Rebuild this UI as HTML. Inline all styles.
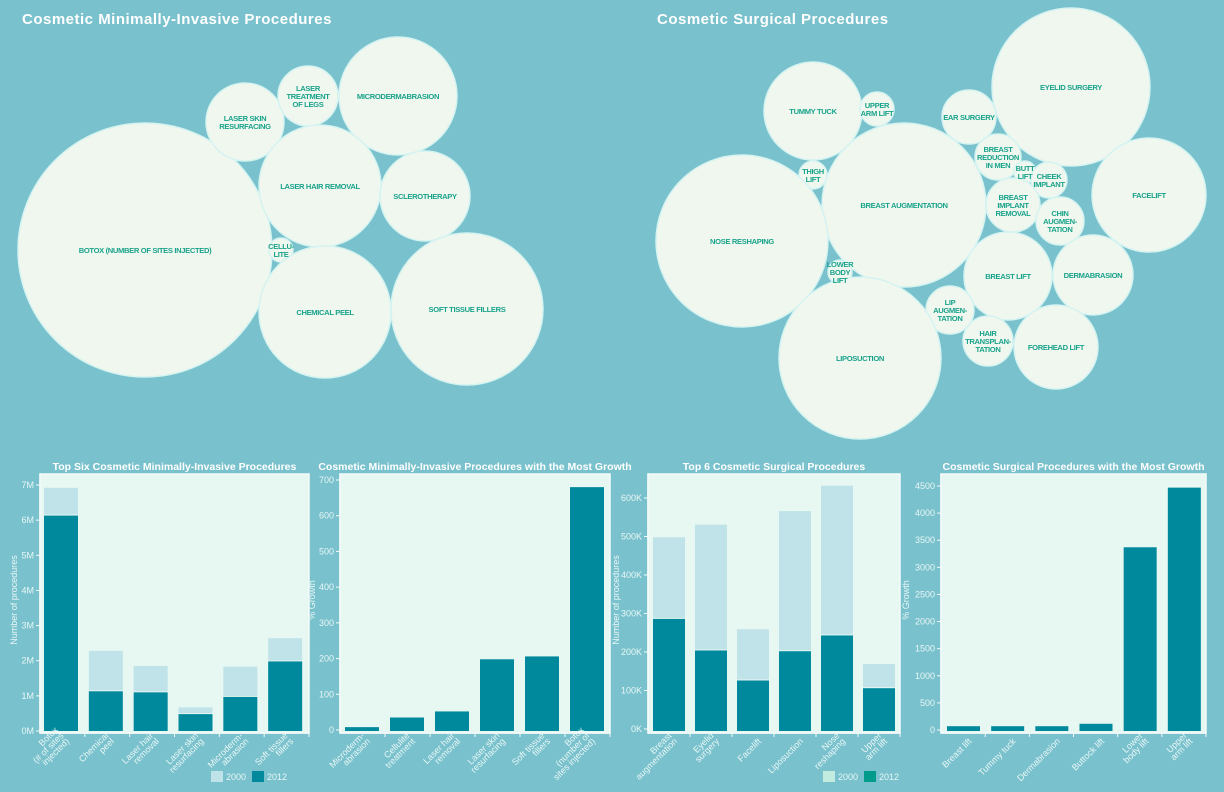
<!DOCTYPE html>
<html><head><meta charset="utf-8"><style>
html,body{margin:0;padding:0;background:#79c1cc;}
svg{display:block;font-family:"Liberation Sans",sans-serif;}
.bl{font-size:7.6px;font-weight:bold;fill:#1aa38b;text-anchor:middle;letter-spacing:-0.35px;}
.tk{font-size:9px;fill:#e8f7f7;}
.ct{font-size:10.5px;font-weight:bold;fill:#ffffff;text-anchor:middle;}
</style></head><body>
<svg id="root" width="1224" height="792" viewBox="0 0 1224 792">
<rect x="0" y="0" width="1224" height="792" fill="#79c1cc"/>
<text x="22" y="24" font-size="15" font-weight="bold" fill="#fff" letter-spacing="0.5">Cosmetic Minimally-Invasive Procedures</text>
<text x="657" y="24" font-size="15" font-weight="bold" fill="#fff" letter-spacing="0.5">Cosmetic Surgical Procedures</text>
<g id="bubbles"></g>
<g id="charts"></g>
</svg>
<script>
const NS='http://www.w3.org/2000/svg';
function mk(tag,attrs,parent){const e=document.createElementNS(NS,tag);for(const k in attrs)e.setAttribute(k,attrs[k]);parent.appendChild(e);return e;}

// ---------- bubble data ----------
const bubbleLabelsLeft=[["BOTOX (NUMBER OF SITES INJECTED)"],["LASER SKIN","RESURFACING"],["LASER","TREATMENT","OF LEGS"],["MICRODERMABRASION"],["LASER HAIR REMOVAL"],["SCLEROTHERAPY"],["CELLU-","LITE"],["CHEMICAL PEEL"],["SOFT TISSUE FILLERS"]];
const bubbleCxLeft=[145,245,308,398,320,425,281,325,467];
const bubbleCyLeft=[250,122,96,96,186,196,250,312,309];
const bubbleRLeft=[127,39,30,59,61,45,12,66,76];
const bubbleLabelsRight=[["EYELID SURGERY"],["TUMMY TUCK"],["UPPER","ARM LIFT"],["EAR SURGERY"],["BREAST","REDUCTION","IN MEN"],["BUTT","LIFT"],["CHEEK","IMPLANT"],["FACELIFT"],["THIGH","LIFT"],["BREAST AUGMENTATION"],["BREAST","IMPLANT","REMOVAL"],["CHIN","AUGMEN-","TATION"],["NOSE RESHAPING"],["BREAST LIFT"],["DERMABRASION"],["LOWER","BODY","LIFT"],["LIP","AUGMEN-","TATION"],["LIPOSUCTION"],["HAIR","TRANSPLAN-","TATION"],["FOREHEAD LIFT"]];
const bubbleCxRight=[1071,813,877,969,998,1025,1049,1149,813,904,1013,1060,742,1008,1093,840,950,860,988,1056];
const bubbleCyRight=[87,111,109,117,157,172,180,195,175,205,205,221,241,276,275,272,310,358,341,347];
const bubbleRRight=[79,49,17,27,23,11,18,57,14,82,27,24,86,44,40,12,24,81,25,42];

function drawBubbles(labels,cx,cy,r){
  const g=document.getElementById('bubbles');
  for(let i=0;i<labels.length;i++){
    const c=mk('circle',{cx:cx[i],cy:cy[i],r:r[i],fill:'#f0f7ef',stroke:'#d4f3f1','stroke-width':1.5},g);
    
    
  }
  for(let i=0;i<labels.length;i++){
    const n=labels[i].length;
    for(let j=0;j<n;j++){
      const t=mk('text',{x:cx[i],y:cy[i]+3+(j-(n-1)/2)*8,class:'bl'},g);
      t.textContent=labels[i][j];
      
      
    }
  }
}
drawBubbles(bubbleLabelsLeft,bubbleCxLeft,bubbleCyLeft,bubbleRLeft);
drawBubbles(bubbleLabelsRight,bubbleCxRight,bubbleCyRight,bubbleRRight);

// ---------- chart data ----------
const c1Categories=[["Botox","(# of sites","injected)"],["Chemical","peel"],["Laser hair","removal"],["Laser skin","resurfacing"],["Microderm-","abrasion"],["Soft tissue","fillers"]];
const c1Values2012=[6.13,1.13,1.10,0.48,0.97,1.98];
const c1Values2000=[0.79,1.15,0.75,0.19,0.86,0.66];
const c1Ticks=[0,1,2,3,4,5,6,7];
const c1TickLabels=["0M","1M","2M","3M","4M","5M","6M","7M"];

const c2Categories=[["Microderm-","abrasion"],["Cellulite","treatment"],["Laser hair","removal"],["Laser skin","resurfacing"],["Soft tissue","fillers"],["Botox","(number of","sites injected)"]];
const c2Values=[8,35,52,198,206,680];
const c2Ticks=[0,100,200,300,400,500,600,700];
const c2TickLabels=["0","100","200","300","400","500","600","700"];

const c3Categories=[["Breast","augmentation"],["Eyelid","surgery"],["Facelift"],["Liposuction"],["Nose","reshaping"],["Upper","arm lift"]];
const c3Values2012=[286,204,126,202,243,106];
const c3Values2000=[212,327,133,364,389,63];
const c3Ticks=[0,100,200,300,400,500,600];
const c3TickLabels=["0K","100K","200K","300K","400K","500K","600K"];

const c4Categories=[["Breast lift"],["Tummy tuck"],["Dermabrasion"],["Buttock lift"],["Lower","body lift"],["Upper","arm lift"]];
const c4Values=[70,70,70,115,3370,4470];
const c4Ticks=[0,500,1000,1500,2000,2500,3000,3500,4000,4500];
const c4TickLabels=["0","500","1000","1500","2000","2500","3000","3500","4000","4500"];

const DARK='#00899c', LIGHT='#bfe3e9';

function chart(o){
  const g=mk('g',{},document.getElementById('charts'));
  
  
  const panel=mk('rect',{x:o.x0,y:474,width:o.x1-o.x0,height:o.base-474+2,fill:'#e7f7f2',stroke:'#f4fbfa','stroke-width':1.5},g);
  
  
  const title=mk('text',{x:(o.x0+o.x1)/2,y:470,class:'ct'},g);
  title.textContent=o.title;
  
  
  const ys=v=>o.y0px+(o.yTopPx-o.y0px)*(v/o.yMax);
  mk('line',{x1:o.x0,y1:474,x2:o.x0,y2:o.base+2,stroke:'#f4fbfa','stroke-width':1.5},g);
  mk('line',{x1:o.x0,y1:o.base+2,x2:o.x1,y2:o.base+2,stroke:'#f4fbfa','stroke-width':1.5},g);
  o.ticks.forEach((t,i)=>{
    const y=ys(t);
    mk('line',{x1:o.x0-4,y1:y,x2:o.x0,y2:y,stroke:'#f4fbfa'},g);
    const tl=mk('text',{x:o.x0-6,y:y+3,class:'tk','text-anchor':'end'},g);
    tl.textContent=o.tickLabels[i];
    
    
  });
  const yt=mk('text',{x:0,y:0,class:'tk','font-size':8,'text-anchor':'middle',transform:`translate(${o.yTitleX},600) rotate(-90)`},g);
  yt.textContent=o.yTitle;
  
  
  const n=o.cats.length, band=(o.x1-o.x0)/n;
  for(let i=0;i<n;i++){
    const bx=o.x0+i*band+o.off;
    const v1=o.v1[i], v2=o.v2?o.v2[i]:0;
    if(o.v2){
      const r2=mk('rect',{x:bx,y:ys(v1+v2),width:o.bw,height:ys(v1)-ys(v1+v2)-1,fill:LIGHT},g);
      
      
    }
    const r1=mk('rect',{x:bx,y:ys(v1),width:o.bw,height:o.base-ys(v1),fill:DARK},g);
    
    
    const tx=o.x0+(i+1)*band;
    mk('line',{x1:tx,y1:o.base+2,x2:tx,y2:o.base+6,stroke:'#f4fbfa'},g);
    const cx=bx+o.bw/2+6;
    const lab=o.cats[i], m=lab.length;
    const lg=mk('g',{transform:`translate(${cx},${o.base+8}) rotate(-45)`},g);
    
    
    for(let j=0;j<m;j++){
      const t=mk('text',{x:0,y:(j-(m-1))*8+4,class:'tk','font-size':8.5,'text-anchor':'end'},lg);
      t.textContent=lab[j];
    }
  }
  if(o.legend){
    const lx=o.legend;
    [[o.lc1,'2000',0],[o.lc2,'2012',41]].forEach(([c,l,dx])=>{
      const s=mk('rect',{x:lx+dx,y:771,width:12,height:11,fill:c},g);
      
      
      const t=mk('text',{x:lx+dx+15,y:780,class:'tk'},g);
      t.textContent=l;
      
      
    });
  }
}
chart({name:'top-six-minimally-invasive-chart',title:'Top Six Cosmetic Minimally-Invasive Procedures',x0:40,x1:309,base:731,y0px:731,yTopPx:485,yMax:7,ticks:c1Ticks,tickLabels:c1TickLabels,cats:c1Categories,v1:c1Values2012,v2:c1Values2000,off:4,bw:34,yTitle:'Number of procedures',yTitleX:17,legend:211,lc1:'#bfe3e9',lc2:'#00899c'});
chart({name:'minimally-invasive-growth-chart',title:'Cosmetic Minimally-Invasive Procedures with the Most Growth',x0:340,x1:610,base:731,y0px:730,yTopPx:480,yMax:700,ticks:c2Ticks,tickLabels:c2TickLabels,cats:c2Categories,v1:c2Values,v2:null,off:5,bw:34,yTitle:'% Growth',yTitleX:315});
chart({name:'top-six-surgical-chart',title:'Top 6 Cosmetic Surgical Procedures',x0:648,x1:900,base:731,y0px:729,yTopPx:498,yMax:600,ticks:c3Ticks,tickLabels:c3TickLabels,cats:c3Categories,v1:c3Values2012,v2:c3Values2000,off:5,bw:32,yTitle:'Number of procedures',yTitleX:619,legend:823,lc1:'#c2ece0',lc2:'#009b8a'});
chart({name:'surgical-growth-chart',title:'Cosmetic Surgical Procedures with the Most Growth',x0:941,x1:1206,base:731,y0px:730,yTopPx:486,yMax:4500,ticks:c4Ticks,tickLabels:c4TickLabels,cats:c4Categories,v1:c4Values,v2:null,off:6,bw:33,yTitle:'% Growth',yTitleX:909});
</script>
</body></html>
